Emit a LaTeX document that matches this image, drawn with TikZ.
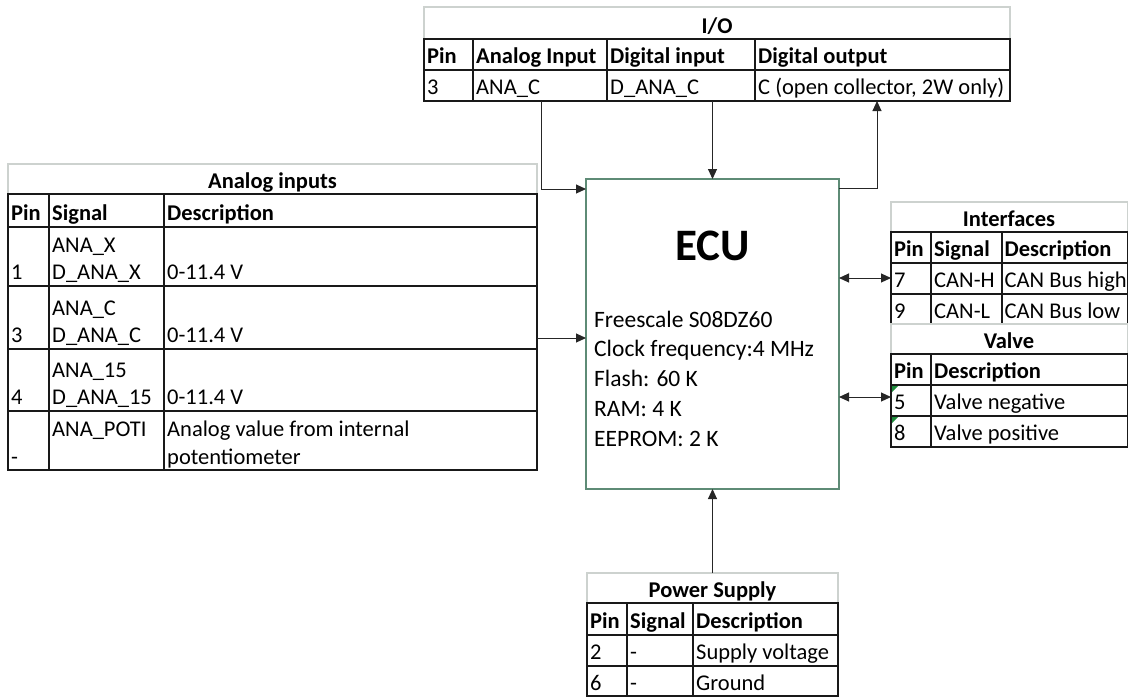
\documentclass[tikz,border=0pt]{standalone}
\usepackage{fontspec}
\setmainfont{Carlito}
\usetikzlibrary{arrows.meta}
\definecolor{gridgray}{HTML}{CDD2CF}
\definecolor{ecugreen}{HTML}{5E8B76}
\definecolor{flaggreen}{HTML}{1E8C3C}
\newcommand\tabfont{\fontsize{22.5}{27}\selectfont}
\newcommand\tabfontb{\fontsize{22.5}{27}\selectfont\bfseries}
\newcommand\celltxt[4]{\node[cell] (#1) at (#2,#3) {#4};}
\newcommand\headtxt[4]{\node[headcell] (#1) at (#2,#3) {#4};}
\begin{document}
\begin{tikzpicture}[x=1pt,y=-1pt,
  cell/.style={anchor=base west,inner sep=0pt,font=\tabfont},
  headcell/.style={cell,font=\tabfontb},
  titlecell/.style={anchor=base,inner sep=0pt,font=\tabfontb},
  tline/.style={line width=1.8pt,draw=black!90},
  gline/.style={line width=1.6pt,draw=gridgray},
  conn/.style={line width=1pt,draw=black!85},
  arr/.style={conn,-{Triangle[length=10pt,width=9pt]}},
  darr/.style={conn,{Triangle[length=10pt,width=9pt]}-{Triangle[length=10pt,width=9pt]}},
  ecubox/.style={draw=ecugreen,line width=1.3pt,outer sep=0pt,inner sep=0pt,minimum width=253pt,minimum height=310pt,anchor=north west},
  spec/.style={anchor=base west,inner sep=0pt,font=\fontsize{23.5}{29.75}\selectfont}]
\useasboundingbox (0,0) rectangle (1129,697);

% ---------------- I/O table ----------------
\draw[gline] (424,39) -- (424,7) -- (1010,7) -- (1010,39);
\draw[tline] (424,39) rectangle (1010,101);
\draw[tline] (424,70) -- (1010,70);
\foreach \x in {473,607,755} \draw[tline] (\x,39) -- (\x,101);
\node[titlecell] (ioTitle) at (717,33) {I/O};
\headtxt{ioH1}{427}{63.5}{Pin}
\headtxt{ioH2}{476}{63.5}{Analog Input}
\headtxt{ioH3}{610}{63.5}{Digital input}
\headtxt{ioH4}{758}{63.5}{Digital output}
\celltxt{ioD1}{427}{94.5}{3}
\celltxt{ioD2}{476}{94.5}{ANA\_C}
\celltxt{ioD3}{610}{94.5}{D\_ANA\_C}
\celltxt{ioD4}{758}{94.5}{C (open collector, 2W only)}

% ---------------- Analog inputs table ----------------
\draw[gline] (8,194) -- (8,164) -- (537,164) -- (537,194);
\draw[tline] (8,194) rectangle (537,470);
\foreach \y in {227,286,349,411} \draw[tline] (8,\y) -- (537,\y);
\foreach \x in {49,164} \draw[tline] (\x,194) -- (\x,470);
\node[titlecell] (anTitle) at (272.5,188) {Analog inputs};
\headtxt{anH1}{11}{220.5}{Pin}
\headtxt{anH2}{52}{220.5}{Signal}
\headtxt{anH3}{167}{220.5}{Description}
\celltxt{an1a}{52}{252}{ANA\_X}
\celltxt{an1p}{11}{279.5}{1}
\celltxt{an1b}{52}{279.5}{D\_ANA\_X}
\celltxt{an1d}{167}{279.5}{0-11.4 V}
\celltxt{an3a}{52}{315}{ANA\_C}
\celltxt{an3p}{11}{342.5}{3}
\celltxt{an3b}{52}{342.5}{D\_ANA\_C}
\celltxt{an3d}{167}{342.5}{0-11.4 V}
\celltxt{an4a}{52}{377}{ANA\_15}
\celltxt{an4p}{11}{404.5}{4}
\celltxt{an4b}{52}{404.5}{D\_ANA\_15}
\celltxt{an4d}{167}{404.5}{0-11.4 V}
\celltxt{an5a}{52}{436}{ANA\_POTI}
\celltxt{an5d}{167}{436}{Analog value from internal}
\celltxt{an5p}{11}{464}{-}
\celltxt{an5e}{167}{464}{potentiometer}

% ---------------- Interfaces table ----------------
\draw[gline] (891,232) -- (891,202) -- (1127.5,202) -- (1127.5,232);
\draw[tline] (891,324) -- (891,232) -- (1127.5,232) -- (1127.5,324);
\foreach \y in {263,294} \draw[tline] (891,\y) -- (1127.5,\y);
\foreach \x in {931,1002} \draw[tline] (\x,232) -- (\x,324);
\node[titlecell] (ifTitle) at (1009,226) {Interfaces};
\headtxt{ifH1}{894}{256.5}{Pin}
\headtxt{ifH2}{934}{256.5}{Signal}
\headtxt{ifH3}{1004.5}{256.5}{Description}
\celltxt{if1p}{894}{287.5}{7}
\celltxt{if1s}{934}{287.5}{CAN-H}
\celltxt{if1d}{1004.5}{287.5}{CAN Bus high}
\celltxt{if2p}{894}{318}{9}
\celltxt{if2s}{934}{318}{CAN-L}
\celltxt{if2d}{1004.5}{318}{CAN Bus low}

% ---------------- Valve table ----------------
\draw[gline] (891,354) -- (891,324) -- (1127.5,324) -- (1127.5,354);
\draw[tline] (891,354) rectangle (1127.5,447);
\foreach \y in {385,416} \draw[tline] (891,\y) -- (1127.5,\y);
\draw[tline] (931,354) -- (931,447);
\node[titlecell] (vTitle) at (1009,348) {Valve};
\headtxt{vH1}{894}{378.5}{Pin}
\headtxt{vH2}{934}{378.5}{Description}
\celltxt{v1p}{894}{409.5}{5}
\celltxt{v1d}{934}{409.5}{Valve negative}
\celltxt{v2p}{894}{440.5}{8}
\celltxt{v2d}{934}{440.5}{Valve positive}
\fill[flaggreen] (892,386) -- (898,386) -- (892,392) -- cycle;
\fill[flaggreen] (892,417) -- (898,417) -- (892,423) -- cycle;

% ---------------- Power Supply table ----------------
\draw[gline] (587,603) -- (587,573) -- (838,573) -- (838,603);
\draw[tline] (587,603) rectangle (838,696);
\foreach \y in {635,666} \draw[tline] (587,\y) -- (838,\y);
\foreach \x in {627,693} \draw[tline] (\x,603) -- (\x,696);
\node[titlecell] (psTitle) at (712.5,597) {Power Supply};
\headtxt{psH1}{590}{628}{Pin}
\headtxt{psH2}{630}{628}{Signal}
\headtxt{psH3}{696}{628}{Description}
\celltxt{ps1p}{590}{659.5}{2}
\celltxt{ps1s}{630}{659.5}{-}
\celltxt{ps1d}{696}{659.5}{Supply voltage}
\celltxt{ps2p}{590}{690}{6}
\celltxt{ps2s}{630}{690}{-}
\celltxt{ps2d}{696}{690}{Ground}

% ---------------- ECU ----------------
\node[ecubox] (ecu) at (586,179) {};
\node[anchor=base,inner sep=0pt,font=\fontsize{45}{54}\selectfont\bfseries] (ecuTitle) at (712.5,260) {ECU};
\node[spec] (ecuL1) at (594,327) {Freescale S08DZ60};
\node[spec] (ecuL2) at (594,356.75) {Clock frequency:4 MHz};
\node[spec] (ecuL3) at (594,386.5) {Flash: 60 K};
\node[spec] (ecuL4) at (594,416.25) {RAM: 4 K};
\node[spec] (ecuL5) at (594,446) {EEPROM: 2 K};

% ---------------- ports ----------------
\coordinate (ioA) at (541,101);
\coordinate (ioB) at (712.5,101);
\coordinate (ioC) at (877,101);
\coordinate (anaR) at (537,338);
\coordinate (ifL) at (891,278);
\coordinate (vL) at (891,397);
\coordinate (psT) at (712.5,573);

% ---------------- connectors ----------------
\draw[arr] (ioA) |- ([yshift=-10pt]ecu.north west);
\draw[arr] (ioB) -- (ecu.north);
\draw[arr] ([yshift=-9pt]ecu.north east) -| (ioC);
\draw[arr] (anaR) -- (anaR -| ecu.west);
\draw[darr] (ifL -| ecu.east) -- (ifL);
\draw[darr] (vL -| ecu.east) -- (vL);
\draw[arr] (psT) -- (ecu.south);
\end{tikzpicture}
\end{document}
